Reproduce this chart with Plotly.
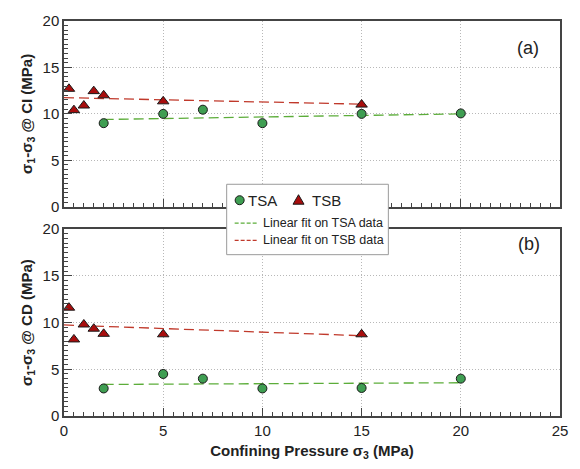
import plotly.graph_objects as go

# ---- data ----
tsa_x = [2, 5, 7, 10, 15, 20]
tsa_ci = [9.0, 10.0, 10.45, 9.0, 10.0, 10.05]
tsa_cd = [2.95, 4.5, 4.0, 2.95, 3.0, 4.0]

tsb_x = [0.25, 0.5, 1, 1.5, 2, 5, 15]
tsb_ci = [12.7, 10.4, 10.9, 12.45, 12.0, 11.35, 11.0]
tsb_cd = [11.6, 8.2, 9.8, 9.35, 8.8, 8.75, 8.75]

fit_tsa_x = [2, 20]
fit_tsa_ci = [9.4, 10.0]
fit_tsa_cd = [3.38, 3.56]
fit_tsb_x = [0, 15]
fit_tsb_ci = [11.75, 11.05]
fit_tsb_cd = [9.75, 8.6]

legend_labels = ["TSA", "TSB", "Linear fit on TSA data", "Linear fit on TSB data"]
x_ticks = [0, 5, 10, 15, 20, 25]
y_ticks = [0, 5, 10, 15, 20]

GREEN = "#3f9e52"
RED = "#a80d0d"
GREEN_L = "#5cad3a"
RED_L = "#c0392b"
EDGE = "#1a1a1a"
FONT = "Liberation Sans, Arial, sans-serif"

fig = go.Figure()

def add_panel(xa, ya, ci_tsa, ci_tsb, f_tsa, f_tsb):
    fig.add_trace(go.Scatter(x=fit_tsa_x, y=f_tsa, mode="lines", name=legend_labels[2],
                             line=dict(color=GREEN_L, width=1.3, dash="10px,5px"),
                             xaxis=xa, yaxis=ya, showlegend=False))
    fig.add_trace(go.Scatter(x=fit_tsb_x, y=f_tsb, mode="lines", name=legend_labels[3],
                             line=dict(color=RED_L, width=1.3, dash="10px,5px"),
                             xaxis=xa, yaxis=ya, showlegend=False))
    fig.add_trace(go.Scatter(x=tsa_x, y=ci_tsa, mode="markers", name=legend_labels[0],
                             marker=dict(symbol="circle", size=9, color=GREEN,
                                         line=dict(color=EDGE, width=1)),
                             xaxis=xa, yaxis=ya, showlegend=False))
    fig.add_trace(go.Scatter(x=tsb_x, y=ci_tsb, mode="markers", name=legend_labels[1],
                             marker=dict(symbol="triangle-up", size=10, color=RED,
                                         line=dict(color=EDGE, width=1)),
                             xaxis=xa, yaxis=ya, showlegend=False))

add_panel("x", "y", tsa_ci, tsb_ci, fit_tsa_ci, fit_tsb_ci)
add_panel("x2", "y2", tsa_cd, tsb_cd, fit_tsa_cd, fit_tsb_cd)

axis_common = dict(
    range=[0, 25], tickvals=x_ticks, showline=True, linecolor="#444", linewidth=1.5, mirror=True,
    ticks="inside", ticklen=8, tickcolor="#444", tickwidth=1,
    minor=dict(dtick=0.5, ticks="inside", ticklen=4, tickcolor="#444", tickwidth=1, showgrid=False),
    showgrid=True, gridcolor="#b8b8b8", griddash="1px,2px", gridwidth=1, zeroline=False,
    tickfont=dict(size=15, color="#222", family=FONT),
)
yaxis_common = dict(axis_common)
yaxis_common["range"] = [0, 20]
yaxis_common["tickvals"] = y_ticks

D_TOP = [0.5297, 1.0]
D_BOT = [0.0, 0.4728]

def px(x):
    return (x - 64) / 497.0

def py(y):
    return (418 - y) / 404.0

shapes = [
    dict(type="rect", xref="paper", yref="paper", x0=px(227), x1=px(389), y0=py(253), y1=py(181),
         fillcolor="white", line=dict(color="#9a9a9a", width=1), layer="above"),
    dict(type="circle", xref="paper", yref="paper", xsizemode="pixel", ysizemode="pixel",
         xanchor=px(240), yanchor=py(197.3), x0=-4.5, x1=4.5, y0=-4.5, y1=4.5,
         fillcolor=GREEN, line=dict(color=EDGE, width=1), layer="above"),
    dict(type="path", xref="paper", yref="paper", xsizemode="pixel", ysizemode="pixel",
         xanchor=px(299), yanchor=py(197.3), path="M -5.5,-4 L 5.5,-4 L 0,5.5 Z",
         fillcolor=RED, line=dict(color=EDGE, width=1), layer="above"),
    dict(type="line", xref="paper", yref="paper", x0=px(235), x1=px(258), y0=py(220.7), y1=py(220.7),
         line=dict(color=GREEN_L, width=1.3, dash="4px,2px"), layer="above"),
    dict(type="line", xref="paper", yref="paper", x0=px(235), x1=px(258), y0=py(238.3), y1=py(238.3),
         line=dict(color=RED_L, width=1.3, dash="4px,2px"), layer="above"),
]

annotations = [
    dict(text="(a)", x=px(542), y=py(29), xref="paper", yref="paper", showarrow=False,
         font=dict(size=18, family=FONT, color="#222")),
    dict(text="(b)", x=px(543), y=py(242), xref="paper", yref="paper", showarrow=False,
         font=dict(size=18, family=FONT, color="#222")),
    dict(text=legend_labels[0], x=px(246), y=py(197.3), xref="paper", yref="paper", showarrow=False,
         xanchor="left", yanchor="middle", font=dict(size=15, family=FONT, color="#222")),
    dict(text=legend_labels[1], x=px(310), y=py(197.3), xref="paper", yref="paper", showarrow=False,
         xanchor="left", yanchor="middle", font=dict(size=15, family=FONT, color="#222")),
    dict(text=legend_labels[2], x=px(261), y=py(220.7), xref="paper", yref="paper", showarrow=False,
         xanchor="left", yanchor="middle", font=dict(size=12.5, family=FONT, color="#222")),
    dict(text=legend_labels[3], x=px(261), y=py(238.3), xref="paper", yref="paper", showarrow=False,
         xanchor="left", yanchor="middle", font=dict(size=12.5, family=FONT, color="#222")),
]

fig.update_layout(
    width=580, height=469,
    margin=dict(l=64, r=19, t=14, b=51),
    paper_bgcolor="white", plot_bgcolor="white",
    font=dict(family=FONT, color="#222"),
    showlegend=False,
    xaxis=dict(axis_common, domain=[0, 1], anchor="y", showticklabels=False),
    yaxis=dict(yaxis_common, domain=D_TOP, anchor="x",
               title=dict(text="<b>σ<sub>1</sub>-σ<sub>3</sub> @ CI (MPa)</b>", font=dict(size=15), standoff=6)),
    xaxis2=dict(axis_common, domain=[0, 1], anchor="y2",
                title=dict(text="<b>Confining Pressure σ<sub>3</sub> (MPa)</b>", font=dict(size=15), standoff=8)),
    yaxis2=dict(yaxis_common, domain=D_BOT, anchor="x2",
                title=dict(text="<b>σ<sub>1</sub>-σ<sub>3</sub> @ CD (MPa)</b>", font=dict(size=15), standoff=6)),
    shapes=shapes,
    annotations=annotations,
)

fig.write_html("out.html")
